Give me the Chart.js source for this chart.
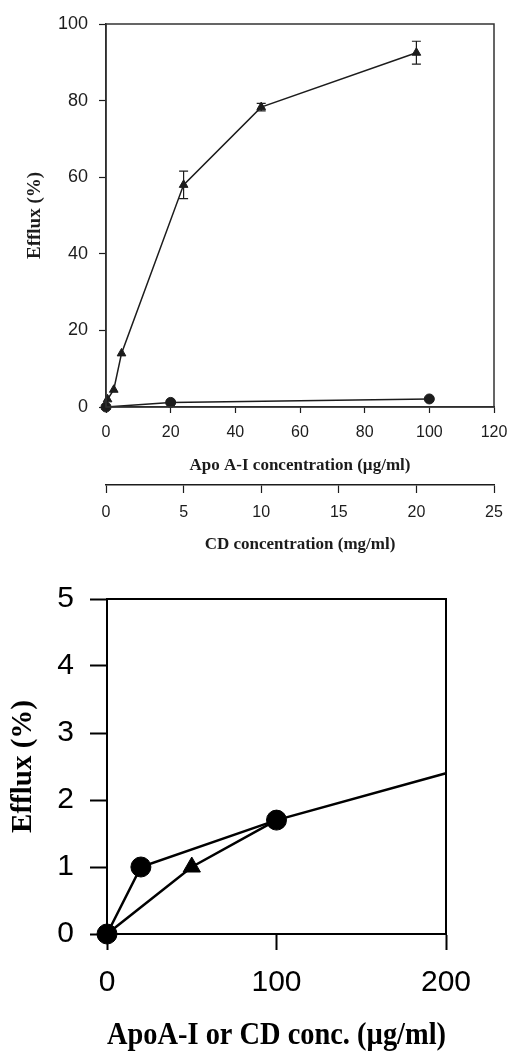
<!DOCTYPE html>
<html>
<head>
<meta charset="utf-8">
<script src="https://cdn.jsdelivr.net/npm/chart.js@4.4.1/dist/chart.umd.min.js"></script>
<style>
  html, body { margin: 0; padding: 0; background: #fff; }
  #wrap { position: relative; width: 511px; height: 1051px; }
  canvas { position: absolute; left: 0; }
  #topChart { top: 0; }
  #bottomChart { top: 560px; }
</style>
</head>
<body>
<div id="wrap">
  <canvas id="topChart" width="511" height="560"></canvas>
  <canvas id="bottomChart" width="511" height="491"></canvas>
</div>
<script>
// top panel: CD (triangles, mg/ml axis) and apoA-I (circles, ug/ml axis)
const cdConcTop = [0, 0.1, 0.5, 1, 5, 10, 20];
const cdEffluxTop = [0, 2, 4.5, 14, 58, 78.3, 92.5];
const cdErrTop = [0, 0, 0, 0, 3.6, 1, 3];

const apoConcTop = [0, 20, 100];
const apoEffluxTop = [0, 1.2, 2.1];

const apoTicksTop = [0, 20, 40, 60, 80, 100, 120];
const cdTicksTop = [0, 5, 10, 15, 20, 25];
const effluxTicksTop = [0, 20, 40, 60, 80, 100];

// bottom panel: both in ug/ml
const circleConc = [0, 20, 100, 200];
const circleEfflux = [0, 1.0, 1.7, 2.4];
const triangleConc = [0, 50, 100];
const triangleEfflux = [0, 1.0, 1.7];

const concTicksBottom = [0, 100, 200];
const effluxTicksBottom = [0, 1, 2, 3, 4, 5];

const INK = "#1c1c1c";
const SANS = "'Liberation Sans', Arial, sans-serif";
const SERIF = "'Liberation Serif', 'Times New Roman', serif";

function toPoints(xs, ys) {
  return xs.map((x, i) => ({ x: x, y: ys[i] }));
}

function fixedTicks(values) {
  return scale => {
    scale.ticks = values.map(v => ({ value: v }));
  };
}

// fixed axis height, and no extra side room for the end labels
function fixHeight(h) {
  return s => {
    s.height = h;
    s.paddingLeft = 0;
    s.paddingRight = 0;
  };
}

const framePlugin = {
  id: "frame",
  afterDatasetsDraw(chart, args, opts) {
    const a = chart.chartArea;
    const ctx = chart.ctx;
    ctx.save();
    ctx.strokeStyle = opts.color || INK;
    ctx.lineWidth = opts.width || 1;
    ctx.strokeRect(a.left, a.top, a.right - a.left, a.bottom - a.top);
    ctx.restore();
  }
};

const errorBarPlugin = {
  id: "errorBars",
  afterDatasetsDraw(chart) {
    const ctx = chart.ctx;
    const ys = chart.scales.y;
    chart.data.datasets.forEach(ds => {
      if (!ds.errors) return;
      const xs = chart.scales[ds.xAxisID || "x"];
      ds.data.forEach((p, j) => {
        const e = ds.errors[j];
        if (!e) return;
        const px = xs.getPixelForValue(p.x);
        const top = ys.getPixelForValue(p.y + e);
        const bottom = ys.getPixelForValue(p.y - e);
        ctx.save();
        ctx.strokeStyle = INK;
        ctx.lineWidth = 1.2;
        ctx.beginPath();
        ctx.moveTo(px, top);
        ctx.lineTo(px, bottom);
        ctx.moveTo(px - 4.5, top);
        ctx.lineTo(px + 4.5, top);
        ctx.moveTo(px - 4.5, bottom);
        ctx.lineTo(px + 4.5, bottom);
        ctx.stroke();
        ctx.restore();
      });
    });
  }
};

new Chart(document.getElementById("topChart"), {
  type: "scatter",
  data: {
    datasets: [
      {
        label: "CD",
        xAxisID: "x2",
        data: toPoints(cdConcTop, cdEffluxTop),
        errors: cdErrTop,
        showLine: true,
        clip: false,
        borderColor: INK,
        backgroundColor: INK,
        borderWidth: 1.5,
        pointStyle: "triangle",
        pointRadius: 5,
        pointBorderWidth: 1
      },
      {
        label: "Apo A-I",
        xAxisID: "x",
        data: toPoints(apoConcTop, apoEffluxTop),
        showLine: true,
        clip: false,
        borderColor: INK,
        backgroundColor: INK,
        borderWidth: 1.5,
        pointStyle: "circle",
        pointRadius: 5,
        pointBorderWidth: 1
      }
    ]
  },
  options: {
    responsive: false,
    animation: false,
    layout: { padding: { top: 24, right: 17, left: 0, bottom: 0 } },
    plugins: {
      legend: { display: false },
      tooltip: { enabled: false },
      frame: { color: "#333", width: 1.5 }
    },
    scales: {
      x: {
        type: "linear",
        position: "bottom",
        weight: 0,
        min: 0,
        max: 120,
        afterBuildTicks: fixedTicks(apoTicksTop),
        ticks: { color: INK, padding: 10, maxRotation: 0, font: { family: SANS, size: 16 } },
        grid: { drawOnChartArea: false, tickLength: 6, color: INK, tickWidth: 1.2 },
        border: { color: INK, width: 1.5 },
        title: {
          display: true,
          text: "Apo A-I concentration (µg/ml)",
          color: INK,
          font: { family: SERIF, size: 17, weight: "bold" },
          padding: { top: 0, bottom: 9 }
        },
        afterFit: fixHeight(78)
      },
      x2: {
        type: "linear",
        position: "bottom",
        weight: 1,
        min: 0,
        max: 25,
        afterBuildTicks: fixedTicks(cdTicksTop),
        ticks: { color: INK, padding: 10, maxRotation: 0, font: { family: SANS, size: 16 } },
        grid: { drawOnChartArea: false, tickLength: 8, color: INK, tickWidth: 1.2 },
        border: { color: INK, width: 1.5 },
        title: {
          display: true,
          text: "CD concentration (mg/ml)",
          color: INK,
          font: { family: SERIF, size: 17, weight: "bold" },
          padding: { top: 0, bottom: 5 }
        },
        afterFit: fixHeight(75)
      },
      y: {
        type: "linear",
        min: 0,
        max: 100,
        afterBuildTicks: fixedTicks(effluxTicksTop),
        ticks: { color: INK, padding: 11, font: { family: SANS, size: 18 } },
        grid: { drawOnChartArea: false, tickLength: 7, color: INK, tickWidth: 1.2 },
        border: { color: INK, width: 1.5 },
        title: {
          display: true,
          text: "Efflux (%)",
          color: INK,
          font: { family: SERIF, size: 19, weight: "bold" },
          padding: { top: 24, bottom: 0 }
        },
        afterFit: s => { s.width = 106; }
      }
    }
  },
  plugins: [framePlugin, errorBarPlugin]
});

new Chart(document.getElementById("bottomChart"), {
  type: "scatter",
  data: {
    datasets: [
      {
        label: "Triangles",
        data: toPoints(triangleConc, triangleEfflux),
        showLine: true,
        clip: false,
        borderColor: "#000",
        backgroundColor: "#000",
        borderWidth: 2.5,
        pointStyle: "triangle",
        pointRadius: 10,
        pointBorderWidth: 1
      },
      {
        label: "Circles",
        data: toPoints(circleConc, circleEfflux),
        showLine: true,
        clip: false,
        borderColor: "#000",
        backgroundColor: "#000",
        borderWidth: 2.5,
        pointStyle: "circle",
        pointRadius: circleConc.map(c => (c >= 200 ? 0 : 10)),
        pointBorderWidth: 1
      }
    ]
  },
  options: {
    responsive: false,
    animation: false,
    layout: { padding: { top: 39, right: 65, left: 0, bottom: 0 } },
    plugins: {
      legend: { display: false },
      tooltip: { enabled: false },
      frame: { color: "#000", width: 2 }
    },
    scales: {
      x: {
        type: "linear",
        min: 0,
        max: 200,
        afterBuildTicks: fixedTicks(concTicksBottom),
        ticks: { color: "#000", padding: 15, maxRotation: 0, font: { family: SANS, size: 30 } },
        grid: { drawOnChartArea: false, tickLength: 16, color: "#000", tickWidth: 2 },
        border: { color: "#000", width: 2 },
        title: {
          display: true,
          text: "ApoA-I or CD conc. (µg/ml)",
          color: "#000",
          font: { family: SERIF, size: 31, weight: "bold", lineHeight: 1 },
          padding: { top: 0, bottom: 0 }
        },
        afterFit: s => { s.height = 117; }
      },
      y: {
        type: "linear",
        min: 0,
        max: 5,
        afterBuildTicks: fixedTicks(effluxTicksBottom),
        ticks: { color: "#000", padding: 16, font: { family: SANS, size: 30 } },
        grid: { drawOnChartArea: false, tickLength: 17, color: "#000", tickWidth: 2 },
        border: { color: "#000", width: 2 },
        title: {
          display: true,
          text: "Efflux (%)",
          color: "#000",
          font: { family: SERIF, size: 29, weight: "bold", lineHeight: 1 },
          padding: { top: 9, bottom: 0 }
        },
        afterFit: s => { s.width = 107; }
      }
    }
  },
  plugins: [framePlugin]
});
</script>
</body>
</html>
